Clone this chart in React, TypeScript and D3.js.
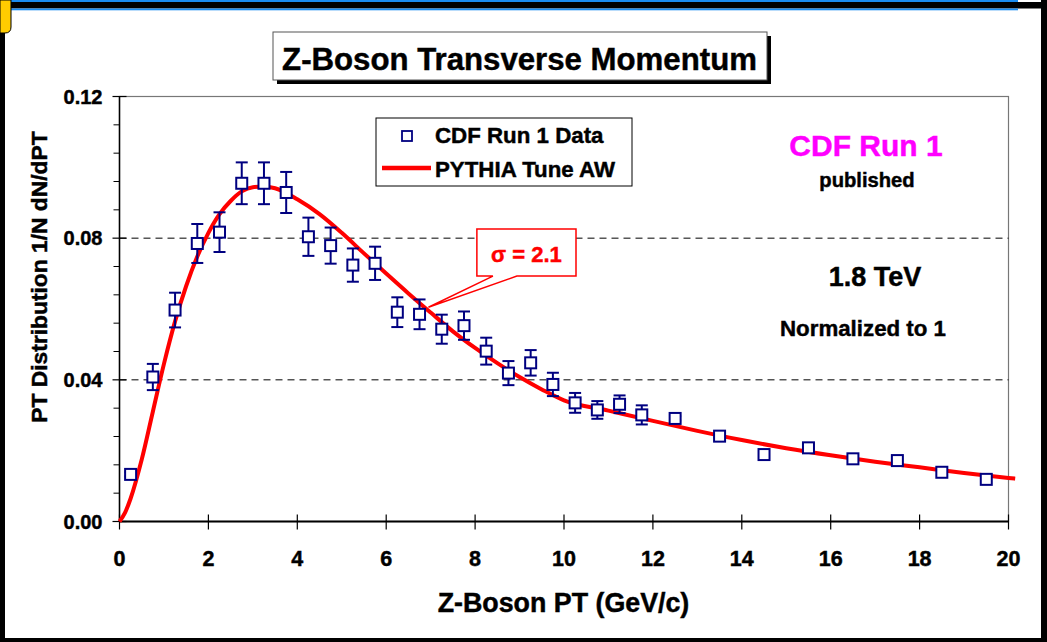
import React from "react";
import * as d3 from "d3";

// ---------- data ----------
const ptBins = [0.25, 0.75, 1.25, 1.75, 2.25, 2.75, 3.25, 3.75, 4.25, 4.75, 5.25, 5.75, 6.25, 6.75, 7.25, 7.75, 8.25, 8.75, 9.25, 9.75, 10.25, 10.75, 11.25, 11.75, 12.5, 13.5, 14.5, 15.5, 16.5, 17.5, 18.5, 19.5];
const cdfValues = [0.0133, 0.0408, 0.0597, 0.0785, 0.0817, 0.0955, 0.0955, 0.0929, 0.0804, 0.0779, 0.0724, 0.0729, 0.0591, 0.0585, 0.0543, 0.0553, 0.0481, 0.0419, 0.0448, 0.0387, 0.0335, 0.0315, 0.0331, 0.0301, 0.0291, 0.0241, 0.0189, 0.0208, 0.0177, 0.0172, 0.0139, 0.0119];
const cdfErrors = [0.0006, 0.0037, 0.0049, 0.0055, 0.0056, 0.0059, 0.0059, 0.0058, 0.0054, 0.0051, 0.0047, 0.0047, 0.0042, 0.0042, 0.0041, 0.004, 0.0038, 0.0034, 0.0036, 0.0033, 0.0028, 0.0025, 0.0025, 0.0027, 0.0006, 0.0004, 0, 0, 0, 0, 0, 0];

const pythiaPt = [0, 0.125, 0.25, 0.5, 0.75, 1.0, 1.25, 1.5, 1.75, 2.0, 2.25, 2.5, 2.75, 3.0, 3.25, 3.5, 4.0, 4.5, 5.0, 5.5, 6.0, 6.5, 7.0, 7.5, 8.0, 8.5, 9.0, 9.5, 10, 11, 12, 13, 14, 15, 16, 17, 18, 19, 20, 20.15];
const pythiaValues = [0, 0.0025, 0.0065, 0.0175, 0.031, 0.0445, 0.0565, 0.0665, 0.0748, 0.0815, 0.0868, 0.0905, 0.0932, 0.0944, 0.0946, 0.0941, 0.0910, 0.0868, 0.0815, 0.0757, 0.0700, 0.0644, 0.0590, 0.0537, 0.0490, 0.0447, 0.0408, 0.0373, 0.0342, 0.0313, 0.0284, 0.0256, 0.0230, 0.0207, 0.0187, 0.0169, 0.0153, 0.0137, 0.0123, 0.0121];

const xTicks = [0, 2, 4, 6, 8, 10, 12, 14, 16, 18, 20];
const yMajorTicks = [0, 0.04, 0.08, 0.12];
const yGridLines = [0.04, 0.08];
const yMinorTicks = [0.008, 0.016, 0.024, 0.032, 0.048, 0.056, 0.064, 0.072, 0.088, 0.096, 0.104, 0.112];

const titleText = "Z-Boson Transverse Momentum";
const xTitle = "Z-Boson PT (GeV/c)";
const yTitle = "PT Distribution 1/N dN/dPT";
const legendLabels = ["CDF Run 1 Data", "PYTHIA Tune AW"];
const sigmaLabel = "σ = 2.1";
const sigmaTip = [6.95, 0.0605];
const sigmaBox = [8.04, 10.27, 0.0826, 0.0693];

// ---------- layout ----------
const W = 1047;
const H = 642;
const X0 = 119.5, X1 = 1008.5, Y0 = 521.5, Y1 = 96.5;
const FONT = "'Liberation Sans', Arial, Helvetica, sans-serif";
const NAVY = "#000080";
const RED = "#ff0000";
const BOLD = { strokeWidth: 0.45, paintOrder: "stroke" as const };

export default function App() {
  const x = d3.scaleLinear().domain([0, 20]).range([X0, X1]);
  const y = d3.scaleLinear().domain([0, 0.12]).range([Y0, Y1]);

  const curvePts: [number, number][] = pythiaPt.map((p, i) => [p, pythiaValues[i]]);
  const line = d3
    .line<[number, number]>()
    .x((d) => x(d[0]))
    .y((d) => y(d[1]))
    .curve(d3.curveMonotoneX);

  const tipX = x(sigmaTip[0]);
  const tipY = y(sigmaTip[1]);
  const bx0 = x(sigmaBox[0]), bx1 = x(sigmaBox[1]);
  const by0 = y(sigmaBox[2]), by1 = y(sigmaBox[3]);
  const calloutPath = `M${bx0},${by0} L${bx1},${by0} L${bx1},${by1} L${bx0 + 40},${by1} L${tipX},${tipY} L${bx0 + 16},${by1} L${bx0},${by1} Z`;

  const T = (props: any) => <text stroke={props.fill} {...BOLD} {...props} />;

  return (
    <svg
      width={W}
      height={H}
      style={{ position: "absolute", left: 0, top: 0, background: "#fff" }}
      fontFamily={FONT}
      fontWeight="bold"
    >
      {/* frame */}
      <rect x={0} y={0} width={W} height={H} fill="#fff" />
      <rect x={11} y={0} width={1007} height={2} fill="#1a8cf0" />
      <rect x={11} y={2} width={W - 11} height={6.5} fill="#000" />
      <rect x={11} y={8.5} width={1007} height={1.8} fill="#1a8cf0" />
      <rect x={0} y={28} width={5} height={H - 28} fill="#000" />
      <rect x={0} y={638} width={W} height={4} fill="#000" />
      <rect x={1041} y={0} width={6} height={H} fill="#000" />
      <path d="M0,0 L11,0 L11,27 Q11,33 5,33 L0,33 Z" fill="#ffcc00" stroke="#000" strokeWidth={1} />

      {/* title box */}
      <rect x={277} y={36} width={494} height={48} fill="#000" />
      <rect x={273} y={32} width={494} height={48} fill="#fff" stroke="#555" strokeWidth={1} />
      <T x={519.5} y={69.5} textAnchor="middle" fontSize={31.2} fill="#000">{titleText}</T>

      {/* plot frame */}
      <rect x={X0} y={Y1} width={X1 - X0} height={Y0 - Y1} fill="none" stroke="#777" strokeWidth={1.2} />

      {/* grid lines */}
      {yGridLines.map((v) => (
        <line key={"g" + v} x1={X0} x2={X1} y1={y(v)} y2={y(v)} stroke="#000" strokeWidth={1} strokeDasharray="7,5" />
      ))}

      {/* y axis */}
      <line x1={X0} x2={X0} y1={Y1} y2={Y0} stroke="#000" strokeWidth={1.5} />
      {yMinorTicks.map((v) => (
        <line key={"ym" + v} x1={X0 - 6} x2={X0} y1={y(v)} y2={y(v)} stroke="#000" strokeWidth={1} />
      ))}
      {yMajorTicks.map((v) => (
        <g key={"yM" + v}>
          <line x1={X0 - 7} x2={X0 + 7} y1={y(v)} y2={y(v)} stroke="#000" strokeWidth={1.2} />
          <T x={102.5} y={y(v) + 7} textAnchor="end" fontSize={20} fill="#000">{v.toFixed(2)}</T>
        </g>
      ))}

      {/* x axis */}
      <line x1={X0} x2={X1} y1={Y0} y2={Y0} stroke="#000" strokeWidth={2} />
      {xTicks.map((v) => (
        <g key={"x" + v}>
          <line x1={x(v)} x2={x(v)} y1={Y0 - 7} y2={Y0 + 8} stroke="#000" strokeWidth={1.2} />
          <T x={x(v)} y={565.5} textAnchor="middle" fontSize={21.5} fill="#000">{v}</T>
        </g>
      ))}

      {/* axis titles */}
      <T x={563.5} y={612} textAnchor="middle" fontSize={26.8} fill="#000">{xTitle}</T>
      <T transform={`translate(47,277) rotate(-90)`} textAnchor="middle" fontSize={22.8} fill="#000">{yTitle}</T>

      {/* PYTHIA curve */}
      <path d={line(curvePts) || ""} fill="none" stroke={RED} strokeWidth={4} strokeLinejoin="round" />

      {/* data error bars */}
      {ptBins.map((p, i) => {
        const e = cdfErrors[i];
        if (e <= 0) return null;
        const cx = x(p);
        const yt = y(cdfValues[i] + e);
        const yb = y(cdfValues[i] - e);
        return (
          <g key={"e" + i} stroke={NAVY} strokeWidth={2}>
            <line x1={cx} x2={cx} y1={yt} y2={yb} />
            <line x1={cx - 6} x2={cx + 6} y1={yt} y2={yt} />
            <line x1={cx - 6} x2={cx + 6} y1={yb} y2={yb} />
          </g>
        );
      })}
      {/* data markers */}
      {ptBins.map((p, i) => (
        <rect key={"m" + i} x={x(p) - 5.5} y={y(cdfValues[i]) - 5.5} width={11} height={11} fill="#fff" stroke={NAVY} strokeWidth={2} />
      ))}

      {/* legend */}
      <rect x={376} y={118} width={256} height={68} fill="#fff" stroke="#000" strokeWidth={1} />
      <rect x={402} y={131} width={10} height={10} fill="#fff" stroke={NAVY} strokeWidth={1.8} />
      <T x={435} y={143} fontSize={22.3} fill="#000">{legendLabels[0]}</T>
      <line x1={382} x2={431} y1={168} y2={168} stroke={RED} strokeWidth={4.5} />
      <T x={435} y={177} fontSize={22.3} fill="#000">{legendLabels[1]}</T>

      {/* sigma callout */}
      <path d={calloutPath} fill="#fff" stroke={RED} strokeWidth={1.5} strokeLinejoin="miter" />
      <T x={(bx0 + bx1) / 2} y={262} textAnchor="middle" fontSize={22} fill={RED}>{sigmaLabel}</T>

      {/* right-hand annotations */}
      <T x={866} y={156} textAnchor="middle" fontSize={30} fill="#ff00ff">CDF Run 1</T>
      <T x={867} y={187} textAnchor="middle" fontSize={20.2} fill="#000">published</T>
      <T x={875} y={286} textAnchor="middle" fontSize={27} fill="#000">1.8 TeV</T>
      <T x={863} y={336} textAnchor="middle" fontSize={22.3} fill="#000">Normalized to 1</T>
    </svg>
  );
}
